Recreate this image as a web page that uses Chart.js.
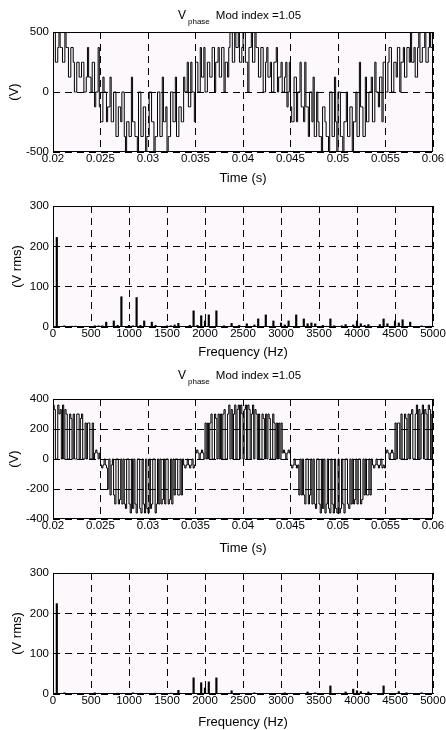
<!DOCTYPE html>
<html>
<head>
<meta charset="utf-8">
<script src="https://cdn.jsdelivr.net/npm/chart.js@4.4.1/dist/chart.umd.min.js"></script>
<style>
  body { margin: 0; background: #fff; width: 446px; height: 730px; position: relative; overflow: hidden;
         font-family: "Liberation Sans", Arial, sans-serif; color: #000; }
  canvas { position: absolute; left: 0; }
  .ttl { position: absolute; left: 178px; font-size: 11.5px; line-height: 12px; white-space: nowrap; color: #000;
         will-change: transform; }
  .ttl .v { font-size: 12px; }
  .ttl .sb { font-size: 8px; position: relative; top: 5px; margin-left: 2px; color: #000; }
  .ttl .m { margin-left: 6px; }
</style>
</head>
<body>

<div class="ttl" style="top:9px"><span class="v">V</span><span class="sb">phase</span><span class="m">Mod index =1.05</span></div>
<canvas id="waveA" width="446" height="186" style="top:0px"></canvas>
<canvas id="specA" width="446" height="170" style="top:190px"></canvas>

<div class="ttl" style="top:369px"><span class="v">V</span><span class="sb">phase</span><span class="m">Mod index =1.05</span></div>
<canvas id="waveB" width="446" height="171" style="top:385px"></canvas>
<canvas id="specB" width="446" height="168" style="top:562px"></canvas>

<script>
// tick labels
var timeTicks = [0.02, 0.025, 0.03, 0.035, 0.04, 0.045, 0.05, 0.055, 0.06];
var timeLabels = ['0.02', '0.025', '0.03', '0.035', '0.04', '0.045', '0.05', '0.055', '0.06'];
var freqTicks = [0, 500, 1000, 1500, 2000, 2500, 3000, 3500, 4000, 4500, 5000];
var voltTicksA = [-500, 0, 500];
var voltTicksB = [-400, -200, 0, 200, 400];
var rmsTicks = [0, 100, 200, 300];

// phase voltage, upper plot (V), one value per 0.125 ms step from 0.02 s
var phaseA = [
  // 0.020 - 0.025
  495, 495, 248, 248, 371, 495, 371, 371, 248, 248, 495,
  371, 371, 124, 124, 371, 371, 248, 0, 0, 248, 248, 124, 124,
  248, 248, 0, 0, 124, 371, 124, 124, 0, 248, 248, -124, 0, 0, 371, -124,
  // 0.025 - 0.030
  -248, -248, 124, 0, 0, -248, -124, -124, 124, -248, -248,
  0, 0, -371, -371, -124, -124, -248, 0, 0, -371,
  -495, -248, -248, -371, -371, 124, -248, -248, -371, -371,
  -495, 0, 0, -371, -371, -124, -124, -495, -371,
  // 0.030 - 0.035
  -371, 0, 0, -248, -248, -495, -371, -371, 0, 0,
  -371, -371, 124, -248, -248, -124, -495, -371, -371, 0,
  0, -248, -248, 124, -371, -371, -124, -124,
  -248, -248, 124, 0, 0, 248, -124, -124, 248, 0, 0, -248,
  // 0.035 - 0.040
  248, 248, 0, 0, 371, 124, 124, 371, 0, 0, 248, 248,
  124, 124, 371, 371, 0, 248, 248, 371, 124, 124, 371, 371, 0, 248, 248, 124,
  371, 495, 495, 248, 248, 495, 371, 371, 495, 248, 248, 371,
  // 0.040 - 0.045
  495, 495, 248, 248, 0, 371, 371, 495, 248, 248, 495, 371,
  371, 124, 124, 371, 371, 0, 0, 248, 371, 124,
  124, 248, 0, 0, 248, 248, 371, 0, 124, 124,
  248, 0, 0, 124, 248, -124, 0, 248,
  // 0.045 - 0.050
  -124, -248, -248, 124, 124, -248, 0, 0, 248, -124, -124, -248,
  248, -124, -124, -371, 0, 0, -248, 124, -371, -371, 0, -248,
  -371, -371, -495, -124, -124, -248, -371, -371, -495, 0, 0, -371, -371, 124, -248, -495,
  // 0.050 - 0.055
  0, 0, -371, -371, -495, -248, -248, 0, -371, -371,
  -124, -124, -495, -248, -248, 0, -371, -371, 248, -124,
  -124, -371, -371, 124,
  -248, -248, 0, 0, 124, -248, -248, 248, 0, 0, -124, 124, 124, -248, 248, 248,
  // 0.055 - 0.060
  0, 0, 248, 371, 371, 0, 0, 248, 248, 124, 371, 371, 0, 248, 248, 371, 124, 124,
  371, 371, 248, 495, 248, 248, 371, 124, 124, 371,
  495, 248, 248, 371, 371, 495, 248, 248, 371, 495,
  371, 371,
  371
];

// phase voltage, lower plot (V)
var phaseB = [
  // 0.020 - 0.025
  360, 330, 0, 0, 360, 300, 330, 0, 360, 0, 330,
  300, 0, 0, 300, 270, 0, 300, 0, 0, 300, 300, 0, 270, 300, 0, 0,
  240, 0, 240, 240, 0, 0, 240, 0,
  40, 60, 40, 0, 40,
  // 0.025 - 0.030
  -40, -60, -40, 0, -40, -60, -200, 0, -240, -40,
  0, -240, -300, 0, 0, -300, -270, 0, -300, 0,
  -300, -330, 0, 0, -300, -360, 0, -330, 0, -300,
  -360, 0, 0, -330, -360, 0, -300, -360, 0, -330,
  // 0.030 - 0.035
  -360, 0, -330, -300, 0, 0, -360, -300, 0, -300,
  0, -300, -270, 0, -300, 0, 0, -300, -270, 0,
  -300, 0, -240, 0, 0, -240, -240, 0,
  -240, 0, -40, -60, -40, 0, -40, -60, -40, 0, -60, -40,
  // 0.035 - 0.040
  40, 60, 40, 0, 40, 60, 40, 0, 240, 0, 240, 0,
  240, 300, 0, 0, 300, 270, 0, 300, 0, 300,
  0, 300, 330, 0, 0, 300, 360, 0, 330, 0,
  300, 360, 0, 330, 360, 0, 360, 300,
  // 0.040 - 0.045
  0, 330, 360, 0, 360, 330, 0, 300, 360, 0, 330, 300,
  0, 300, 0, 0, 300, 270, 0, 300, 0, 300,
  270, 0, 0, 300, 240, 0, 240, 0, 240, 0,
  240, 40, 60, 40, 0, 40, 60, 40,
  // 0.045 - 0.050
  -40, -60, -40, 0, -40, -60, -40, -240, 0, -240, 0, -240,
  -300, 0, 0, -300, -240, 0, -300, 0, -300, -330,
  0, 0, -300, -360, 0, -330, 0, -360, -300, 0,
  -330, -360, 0, -300, -360, 0, -330, -360,
  // 0.050 - 0.055
  0, -360, -330, 0, -300, -360, 0, 0, -300, -330,
  0, -300, 0, -300, -270, 0, -300, 0, 0, -300,
  -270, 0, -240, 0, -240, -240, 0, -240,
  0, -40, -60, -40, 0, -40, -60, -40, 0, -60, -40, -60,
  // 0.055 - 0.060
  40, 60, 40, 0, 40, 60, 40, 0, 240, 0, 240, 240,
  0, 300, 0, 0, 300, 270, 0, 300, 0, 300,
  330, 0, 0, 300, 360, 0, 330, 0, 300, 360,
  0, 330, 300, 0, 360, 330, 0, 300,
  300
];

// spectra (Hz, V rms)
var freqA = [50, 150, 250, 300, 550, 600, 650, 700, 800, 850, 900, 1000, 1050, 1100, 1150, 1200,
  1300, 1350, 1500, 1550, 1600, 1650, 1800, 1850, 1900, 1950, 2000, 2050, 2150,
  2250, 2350, 2450, 2550, 2650, 2700, 2800, 2900, 3000, 3050, 3100, 3200, 3300, 3350,
  3400, 3450, 3550, 3650, 3700, 3800, 3850, 3950, 4000, 4050, 4100, 4150, 4300, 4350, 4400, 4500,
  4550, 4600, 4700, 4850, 4950];
var rmsA = [222, 3, 2, 2, 3, 3, 3, 12, 15, 4, 75, 4, 3, 73, 4, 15,
  12, 4, 3, 3, 5, 9, 4, 40, 4, 28, 15, 30, 40,
  3, 9, 4, 8, 5, 20, 30, 15, 10, 5, 15, 30, 20, 8,
  10, 8, 4, 20, 3, 3, 6, 5, 15, 8, 4, 6, 6, 20, 8, 15,
  10, 18, 12, 3, 2];

var freqB = [50, 150, 550, 850, 1050, 1150, 1350, 1550, 1650, 1850, 1950, 2000, 2050, 2150,
  2350, 2650, 3050, 3350, 3450, 3650, 3850, 3950, 4000, 4050, 4150, 4350, 4550, 4650, 4850];
var rmsB = [224, 3, 3, 2, 3, 2, 2, 2, 9, 40, 28, 15, 30, 40,
  8, 3, 3, 5, 3, 20, 5, 12, 8, 6, 5, 20, 6, 3, 3];

var stepTime = 0.000125;
var startTime = 0.02;

var framePlugin = {
  id: 'frame',
  beforeDraw: function(chart) {
    var a = chart.chartArea, c = chart.ctx;
    c.save();
    c.fillStyle = '#fcf8fc';
    c.fillRect(a.left, a.top, a.right - a.left, a.bottom - a.top);
    c.restore();
  },
  afterDraw: function(chart) {
    var a = chart.chartArea, c = chart.ctx;
    c.save();
    c.strokeStyle = '#000';
    c.lineWidth = 1;
    c.setLineDash([]);
    c.strokeRect(Math.round(a.left) + 0.5, Math.round(a.top) + 0.5,
      Math.round(a.right - a.left) - 1, Math.round(a.bottom - a.top) - 1);
    c.restore();
  }
};

var tickFont = { family: '"Liberation Sans", Arial, sans-serif', size: 11.5 };
var titleFont = { family: '"Liberation Sans", Arial, sans-serif', size: 13 };

function xAxis(values, labels, min, max, height, text) {
  return {
    type: 'linear', min: min, max: max, offset: false,
    afterBuildTicks: function(s) { s.ticks = values.map(function(v) { return { value: v }; }); },
    afterFit: function(s) { s.height = height; },
    ticks: { autoSkip: false, maxRotation: 0, padding: 0, color: '#000', font: tickFont,
      callback: function(v, i) { return labels[i]; } },
    grid: { color: '#000', lineWidth: 1, drawTicks: false, offset: false },
    border: { display: false, dash: [7, 5] },
    title: { display: true, text: text, color: '#000', font: titleFont, padding: 0 }
  };
}

function yAxis(values, min, max, text, titlePad) {
  return {
    min: min, max: max,
    afterBuildTicks: function(s) { s.ticks = values.map(function(v) { return { value: v }; }); },
    afterFit: function(s) { s.width = 53; },
    ticks: { padding: 4, color: '#000', font: tickFont },
    grid: { color: '#000', lineWidth: 1, drawTicks: false },
    border: { display: false, dash: [7, 5] },
    title: { display: true, text: text, color: '#000', font: titleFont, padding: { top: titlePad, bottom: 0 } }
  };
}

function makeWave(id, values, yTicks, yMin, yMax, padTop, xHeight) {
  var points = values.map(function(v, i) { return { x: startTime + i * stepTime, y: v }; });
  return new Chart(document.getElementById(id), {
    type: 'line',
    data: { datasets: [{ data: points, stepped: true, borderColor: '#000', borderWidth: 1,
      pointRadius: 0, fill: false, tension: 0 }] },
    options: {
      animation: false, responsive: false, maintainAspectRatio: false,
      layout: { padding: { top: padTop, right: 13, left: 0, bottom: 0 } },
      plugins: { legend: { display: false }, tooltip: { enabled: false } },
      scales: {
        x: xAxis(timeTicks, timeLabels, 0.02, 0.06, xHeight, 'Time (s)'),
        y: yAxis(yTicks, yMin, yMax, '(V)', 7)
      }
    },
    plugins: [framePlugin]
  });
}

function makeSpectrum(id, freqs, rms, padTop, xHeight) {
  var points = freqs.map(function(f, i) { return { x: f, y: rms[i] }; });
  return new Chart(document.getElementById(id), {
    type: 'bar',
    data: { datasets: [{ data: points, backgroundColor: '#000', borderWidth: 0, barThickness: 1.5 }] },
    options: {
      animation: false, responsive: false, maintainAspectRatio: false,
      layout: { padding: { top: padTop, right: 13, left: 0, bottom: 0 } },
      plugins: { legend: { display: false }, tooltip: { enabled: false } },
      scales: {
        x: xAxis(freqTicks, freqTicks.map(String), 0, 5000, xHeight, 'Frequency (Hz)'),
        y: yAxis(rmsTicks, 0, 300, '(V rms)', 10)
      }
    },
    plugins: [framePlugin]
  });
}

makeWave('waveA', phaseA, voltTicksA, -500, 500, 32, 34);
makeSpectrum('specA', freqA, rmsA, 16, 33);
makeWave('waveB', phaseB, voltTicksB, -400, 400, 14, 37);
makeSpectrum('specB', freqB, rmsB, 11, 36);
</script>
</body>
</html>
